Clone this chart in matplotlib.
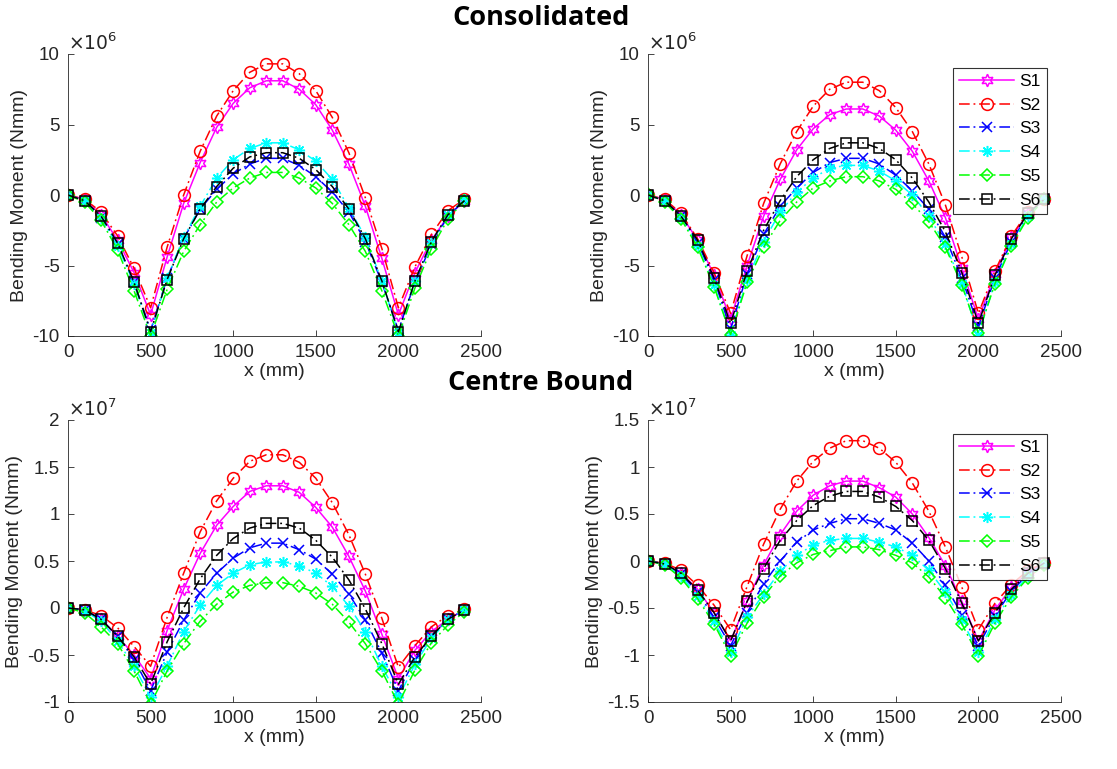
import matplotlib.pyplot as plt
from matplotlib.ticker import FuncFormatter
import numpy as np

plt.rcParams['font.family'] = ['Liberation Sans', 'DejaVu Sans']

x = list(range(0, 2500, 100))
series_names = ["S1", "S2", "S3", "S4", "S5", "S6"]

# Consolidated, left panel (x 1e6 Nmm)
con_a_s1 = [0, -0.3, -1.4, -3.2, -5.5, -8.5, -4.4, -0.6, 2.3, 4.8, 6.5, 7.6, 8.1, 8.1, 7.5, 6.4, 4.6, 2.2, -0.8, -4.5, -8.5, -5.5, -3.2, -1.5, -0.4]
con_a_s2 = [0, -0.3, -1.2, -2.9, -5.2, -8.0, -3.7, 0.0, 3.1, 5.6, 7.4, 8.7, 9.3, 9.3, 8.6, 7.4, 5.5, 3.0, -0.2, -3.8, -8.0, -5.1, -2.8, -1.1, -0.3]
con_a_s3 = [0, -0.4, -1.6, -3.5, -6.2, -9.6, -5.9, -3.1, -1.0, 0.4, 1.5, 2.2, 2.6, 2.6, 2.1, 1.3, 0.2, -1.2, -3.3, -6.2, -9.6, -6.2, -3.5, -1.5, -0.4]
con_a_s4 = [0, -0.4, -1.6, -3.6, -6.3, -9.8, -5.9, -3.0, -0.8, 1.2, 2.5, 3.3, 3.7, 3.7, 3.2, 2.4, 1.1, -0.9, -3.0, -6.1, -9.8, -6.1, -3.4, -1.4, -0.3]
con_a_s5 = [0, -0.5, -1.8, -3.9, -6.8, -10.0, -6.7, -4.0, -2.1, -0.5, 0.5, 1.2, 1.6, 1.6, 1.2, 0.5, -0.6, -2.1, -4.0, -6.8, -10.0, -6.6, -3.8, -1.7, -0.4]
con_a_s6 = [0, -0.4, -1.5, -3.4, -6.2, -9.7, -6.0, -3.1, -1.0, 0.6, 1.9, 2.7, 3.0, 3.0, 2.6, 1.8, 0.6, -1.0, -3.1, -6.1, -9.7, -6.1, -3.3, -1.4, -0.4]

# Consolidated, right panel (x 1e6 Nmm)
con_b_s1 = [0, -0.3, -1.4, -3.2, -5.7, -8.8, -5.0, -1.5, 1.1, 3.2, 4.7, 5.7, 6.1, 6.1, 5.6, 4.6, 3.1, 1.0, -1.6, -5.2, -8.8, -5.6, -3.0, -1.3, -0.3]
con_b_s2 = [0, -0.3, -1.3, -3.1, -5.5, -8.4, -4.3, -0.6, 2.2, 4.5, 6.3, 7.5, 8.0, 8.0, 7.4, 6.2, 4.5, 2.2, -0.7, -4.4, -8.4, -5.4, -2.9, -1.2, -0.3]
con_b_s3 = [0, -0.4, -1.5, -3.4, -6.0, -9.5, -5.6, -2.8, -0.8, 0.5, 1.6, 2.3, 2.6, 2.6, 2.2, 1.4, 0.3, -1.0, -3.0, -5.9, -9.3, -5.9, -3.3, -1.4, -0.3]
con_b_s4 = [0, -0.4, -1.6, -3.6, -6.4, -9.9, -6.0, -3.3, -1.2, 0.2, 1.2, 1.9, 2.1, 2.1, 1.7, 1.0, 0.0, -1.5, -3.5, -6.3, -9.9, -6.2, -3.5, -1.5, -0.3]
con_b_s5 = [0.1, -0.5, -1.7, -3.7, -6.5, -9.9, -6.2, -3.7, -1.8, -0.5, 0.5, 1.0, 1.3, 1.3, 1.0, 0.4, -0.6, -1.9, -3.7, -6.4, -9.8, -6.3, -3.6, -1.6, -0.3]
con_b_s6 = [0, -0.4, -1.5, -3.2, -5.9, -9.1, -5.4, -2.5, -0.4, 1.3, 2.5, 3.3, 3.7, 3.7, 3.3, 2.5, 1.2, -0.5, -2.6, -5.5, -9.1, -5.7, -3.1, -1.3, -0.3]

# Centre Bound, left panel (x 1e7 Nmm)
cb_a_s1 = [0, -0.02, -0.12, -0.3, -0.5, -0.75, -0.24, 0.2, 0.58, 0.88, 1.08, 1.24, 1.3, 1.3, 1.23, 1.07, 0.86, 0.55, 0.18, -0.28, -0.75, -0.45, -0.25, -0.12, -0.02]
cb_a_s2 = [0, -0.02, -0.08, -0.21, -0.41, -0.62, -0.1, 0.37, 0.81, 1.14, 1.38, 1.56, 1.63, 1.63, 1.55, 1.38, 1.12, 0.78, 0.36, -0.11, -0.63, -0.4, -0.2, -0.08, -0.01]
cb_a_s3 = [0, -0.02, -0.12, -0.3, -0.55, -0.88, -0.47, -0.13, 0.16, 0.37, 0.53, 0.64, 0.69, 0.69, 0.62, 0.52, 0.36, 0.15, -0.13, -0.48, -0.88, -0.55, -0.3, -0.12, -0.02]
cb_a_s4 = [0, -0.03, -0.14, -0.35, -0.62, -0.95, -0.62, -0.25, 0.03, 0.24, 0.37, 0.46, 0.49, 0.49, 0.45, 0.37, 0.23, 0.02, -0.25, -0.62, -0.95, -0.6, -0.32, -0.13, -0.02]
cb_a_s5 = [0, -0.05, -0.2, -0.38, -0.67, -1.02, -0.67, -0.38, -0.14, 0.04, 0.17, 0.24, 0.27, 0.27, 0.23, 0.16, 0.04, -0.15, -0.38, -0.67, -1.02, -0.66, -0.37, -0.18, -0.04]
cb_a_s6 = [0, -0.02, -0.12, -0.3, -0.52, -0.81, -0.36, 0.0, 0.31, 0.56, 0.74, 0.85, 0.9, 0.9, 0.85, 0.72, 0.54, 0.3, -0.01, -0.38, -0.81, -0.52, -0.3, -0.12, -0.02]

# Centre Bound, right panel (x 1e7 Nmm)
cb_b_s1 = [0, -0.03, -0.13, -0.3, -0.55, -0.85, -0.43, -0.04, 0.28, 0.53, 0.7, 0.8, 0.85, 0.85, 0.78, 0.68, 0.5, 0.25, -0.05, -0.43, -0.85, -0.52, -0.28, -0.12, -0.02]
cb_b_s2 = [0, -0.02, -0.1, -0.26, -0.47, -0.73, -0.27, 0.18, 0.55, 0.85, 1.06, 1.2, 1.28, 1.28, 1.2, 1.05, 0.83, 0.53, 0.15, -0.28, -0.73, -0.45, -0.25, -0.1, -0.02]
cb_b_s3 = [0, -0.03, -0.14, -0.33, -0.6, -0.9, -0.55, -0.24, 0.0, 0.2, 0.33, 0.4, 0.45, 0.45, 0.4, 0.33, 0.19, 0.0, -0.26, -0.57, -0.9, -0.58, -0.32, -0.14, -0.03]
cb_b_s4 = [0, -0.03, -0.16, -0.37, -0.64, -0.97, -0.6, -0.35, -0.11, 0.06, 0.17, 0.22, 0.24, 0.24, 0.2, 0.15, 0.06, -0.1, -0.33, -0.63, -0.97, -0.62, -0.36, -0.16, -0.03]
cb_b_s5 = [0, -0.04, -0.18, -0.4, -0.67, -1.01, -0.66, -0.38, -0.16, -0.02, 0.07, 0.11, 0.15, 0.15, 0.12, 0.06, -0.02, -0.17, -0.39, -0.67, -1.01, -0.66, -0.38, -0.18, -0.04]
cb_b_s6 = [0, -0.03, -0.13, -0.31, -0.55, -0.85, -0.43, -0.08, 0.22, 0.43, 0.59, 0.69, 0.74, 0.74, 0.68, 0.58, 0.43, 0.22, -0.08, -0.45, -0.85, -0.55, -0.3, -0.13, -0.02]

colors = ["#FF00FF", "#FF0000", "#0000FF", "#00FFFF", "#00FF00", "#000000"]
markers = [(6, 1, 0), "o", "x", (8, 2, 0), "D", "s"]
msizes = [9, 8.5, 7, 8, 6.5, 7]
dash = (7, 2.5, 1.2, 2.5)

panels = [
    ([con_a_s1, con_a_s2, con_a_s3, con_a_s4, con_a_s5, con_a_s6], 1e6, (-10, 10), [-10, -5, 0, 5, 10], False),
    ([con_b_s1, con_b_s2, con_b_s3, con_b_s4, con_b_s5, con_b_s6], 1e6, (-10, 10), [-10, -5, 0, 5, 10], True),
    ([cb_a_s1, cb_a_s2, cb_a_s3, cb_a_s4, cb_a_s5, cb_a_s6], 1e7, (-1, 2), [-1, -0.5, 0, 0.5, 1, 1.5, 2], False),
    ([cb_b_s1, cb_b_s2, cb_b_s3, cb_b_s4, cb_b_s5, cb_b_s6], 1e7, (-1.5, 1.5), [-1.5, -1, -0.5, 0, 0.5, 1, 1.5], True),
]

W, H = 1117, 769
fig = plt.figure(figsize=(W / 100, H / 100), dpi=100)
boxes = [(68, 54), (648, 54), (68, 420), (648, 420)]

for (data, scale, ylim, yt, show_leg), (px, py) in zip(panels, boxes):
    ax = fig.add_axes([px / W, 1 - (py + 282) / H, 413 / W, 282 / H])
    for i in range(6):
        line, = ax.plot(x, np.array(data[i]) * scale, color=colors[i],
                        marker=markers[i], markersize=msizes[i], markerfacecolor="none",
                        markeredgewidth=1.1, linewidth=1.1, label=series_names[i])
        if i > 0:
            line.set_dashes(dash)
    ax.set_xlim(0, 2500)
    ax.set_ylim(ylim[0] * scale, ylim[1] * scale)
    ax.set_xticks([0, 500, 1000, 1500, 2000, 2500])
    ax.set_yticks([v * scale for v in yt])
    exp = int(round(np.log10(scale)))
    ax.yaxis.set_major_formatter(FuncFormatter(lambda v, p, s=scale: "%g" % round(v / s, 3)))
    for side in ["top", "right"]:
        ax.spines[side].set_visible(False)
    for side in ["left", "bottom"]:
        ax.spines[side].set_color("#262626")
        ax.spines[side].set_linewidth(0.6)
    ax.tick_params(direction="in", length=4, width=0.6, colors="#262626", labelsize=13.5, pad=6)
    ax.set_xlabel("x (mm)", fontsize=14, color="#262626", labelpad=1)
    ax.set_ylabel("Bending Moment (Nmm)", fontsize=14, color="#262626", labelpad=3)
    ax.text(0.0, 1.0, r"$\times10^{%d}$" % exp, transform=ax.transAxes, fontsize=13.5,
            color="#262626", ha="left", va="bottom")
    if show_leg:
        leg = ax.legend(loc="upper right", bbox_to_anchor=(0.966, 0.952), fontsize=12.5,
                        frameon=True, fancybox=False, edgecolor="black",
                        handlelength=3.2, labelspacing=0.5, borderpad=0.35,
                        handletextpad=0.3, borderaxespad=0)
        leg.get_frame().set_linewidth(0.8)

fig.text(541 / W, 1 - 18 / H, "Consolidated", ha="center", va="center",
         fontsize=19.5, fontweight="bold", family="Open Sans")
fig.text(541 / W, 1 - 383 / H, "Centre Bound", ha="center", va="center",
         fontsize=19.5, fontweight="bold", family="Open Sans")

fig.savefig("out.png", dpi=100)
